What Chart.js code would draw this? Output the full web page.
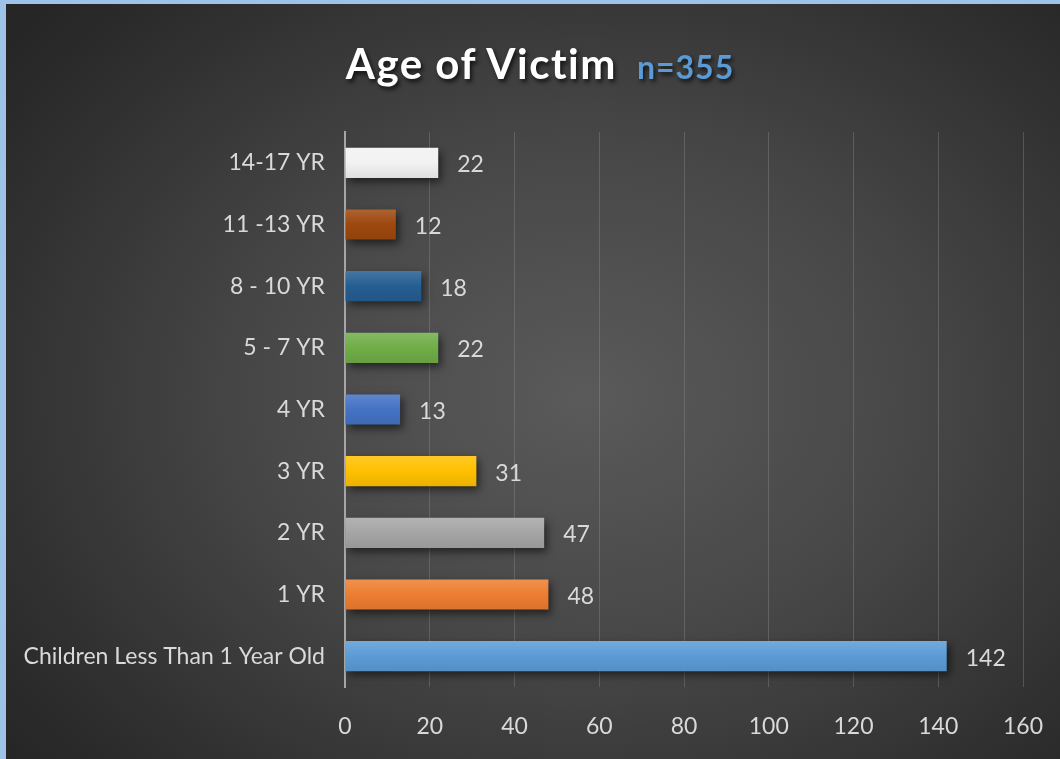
<!DOCTYPE html>
<html>
<head>
<meta charset="utf-8">
<script src="https://cdn.jsdelivr.net/npm/chart.js@4.4.1/dist/chart.umd.min.js"></script>
<style>
  html, body { margin:0; padding:0; }
  body { width:1060px; height:759px; background:#9fc3e6; overflow:hidden; position:relative; }
  #wrap { position:absolute; left:6px; top:4px; width:1054px; height:755px;
    background: radial-gradient(ellipse 70% 75% at 55% 52%, #5a5a5a 0%, #474747 45%, #2e2e2e 85%, #262626 100%); }
  #title { position:absolute; left:0; top:34px; width:1068px; text-align:center; white-space:nowrap;
    font-family: Lato, "Open Sans", sans-serif; font-weight:700; color:#ffffff; font-size:42px; letter-spacing:1.5px;
    text-shadow: 2px 3px 4px rgba(0,0,0,0.7); line-height:50px; }
  #title .n { color:#5b9bd5; font-size:32px; margin-left:20px; letter-spacing:1px; }
  canvas { position:absolute; left:0; top:0; }
</style>
</head>
<body>
<div id="wrap">
  <canvas id="c" width="1054" height="755"></canvas>
  <div id="title">Age of Victim<span class="n">n=355</span></div>
</div>
<script>
const categories = ["14-17 YR", "11 -13 YR", "8 - 10 YR", "5 - 7 YR", "4 YR", "3 YR", "2 YR", "1 YR", "Children Less Than 1 Year Old"];
const victimCounts = [22, 12, 18, 22, 13, 31, 47, 48, 142];
const xTicks = [0, 20, 40, 60, 80, 100, 120, 140, 160];
const barColors = ["#f2f2f2", "#9e480e", "#255e91", "#70ad47", "#4472c4", "#ffc000", "#a5a5a5", "#ed7d31", "#5b9bd5"];

function mix(hex, target, t) {
  const h = parseInt(hex.slice(1), 16);
  const r = (h >> 16) & 255, g = (h >> 8) & 255, b = h & 255;
  const m = c => Math.round(c + (target - c) * t);
  return `rgb(${m(r)},${m(g)},${m(b)})`;
}

const labelFont = 'Lato, "Open Sans", sans-serif';

const shadowAndLabels = {
  id: 'shadowAndLabels',
  beforeDatasetsDraw(chart) {
    const ctx = chart.ctx;
    ctx.save();
    ctx.shadowColor = 'rgba(0,0,0,0.55)';
    ctx.shadowBlur = 8;
    ctx.shadowOffsetX = 3;
    ctx.shadowOffsetY = 4;
  },
  afterDatasetsDraw(chart) {
    const ctx = chart.ctx;
    ctx.restore();
    ctx.save();
    ctx.fillStyle = '#d9d9d9';
    ctx.font = '23px ' + labelFont;
    ctx.textAlign = 'left';
    ctx.textBaseline = 'middle';
    const meta = chart.getDatasetMeta(0);
    meta.data.forEach((bar, i) => {
      ctx.fillText(String(chart.data.datasets[0].data[i]), bar.x + 19, bar.y + 2);
    });
    ctx.restore();
  }
};

new Chart(document.getElementById('c'), {
  type: 'bar',
  data: {
    labels: categories,
    datasets: [{
      data: victimCounts,
      backgroundColor: (c) => {
        const chart = c.chart;
        const i = c.dataIndex;
        const base = barColors[i % barColors.length];
        const ys = chart.scales && chart.scales.y;
        if (!ys || i === undefined || !chart.chartArea) return base;
        const yc = ys.getPixelForValue(i);
        const h = (ys.height / categories.length) * 0.49;
        const g = chart.ctx.createLinearGradient(0, yc - h / 2, 0, yc + h / 2);
        g.addColorStop(0, mix(base, 255, 0.15));
        g.addColorStop(0.5, base);
        g.addColorStop(1, mix(base, 0, 0.08));
        return g;
      },
      borderWidth: 0,
      categoryPercentage: 1.0,
      barPercentage: 0.49
    }]
  },
  options: {
    indexAxis: 'y',
    responsive: false,
    animation: false,
    events: [],
    layout: { padding: { left: 0, right: 37, top: 128, bottom: 0 } },
    plugins: { legend: { display: false }, title: { display: false }, tooltip: { enabled: false } },
    scales: {
      x: {
        min: 0, max: 160,
        afterBuildTicks: (s) => { s.ticks = xTicks.map(v => ({ value: v })); },
        afterFit: (s) => { s.height = 72; s.paddingRight = 0; s.paddingLeft = 0; },
        grid: { display: true, color: 'rgba(150,150,150,0.35)', lineWidth: 1, drawTicks: false },
        border: { display: false },
        ticks: { color: '#d9d9d9', font: { family: labelFont, size: 23 }, padding: 26, maxRotation: 0 }
      },
      y: {
        afterFit: (s) => { s.width = 339; s.paddingTop = 0; s.paddingBottom = 0; },
        grid: { display: false, drawTicks: false },
        border: { display: true, color: '#a6a6a6', width: 2 },
        ticks: { color: '#d9d9d9', font: { family: labelFont, size: 23 }, padding: 20 }
      }
    }
  },
  plugins: [shadowAndLabels]
});
</script>
</body>
</html>
